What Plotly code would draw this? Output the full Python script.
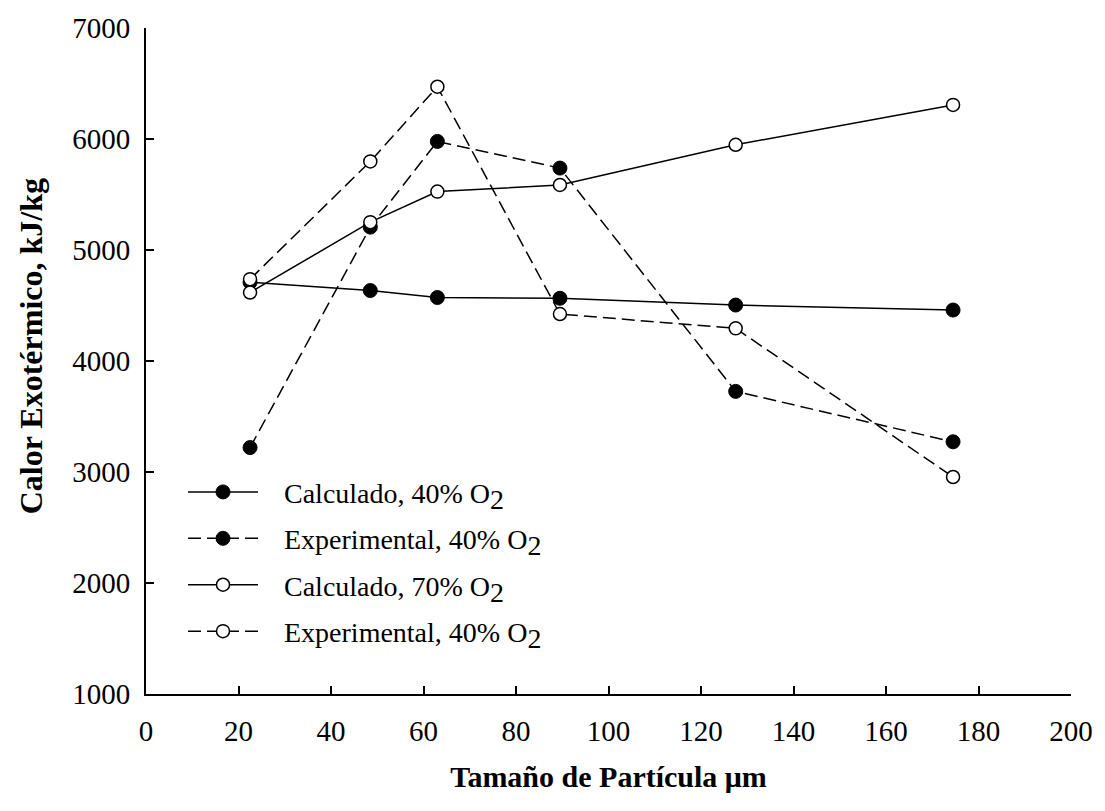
import plotly.graph_objects as go

# Data
particle_size = [22.5, 48.5, 63, 89.5, 127.5, 174.5]
calc_40 = [4710, 4635, 4572, 4565, 4504, 4459]
exp_40_filled = [3220, 5206, 5978, 5738, 3726, 3272]
calc_70 = [4617, 5251, 5526, 5586, 5948, 6307]
exp_40_open = [4737, 5798, 6471, 4423, 4294, 2955]

x_ticks = list(range(0, 201, 20))
y_ticks = list(range(1000, 7001, 1000))

series_names = [
    "Calculado, 40% O",
    "Experimental, 40% O",
    "Calculado, 70% O",
    "Experimental, 40% O",
]

FONT = "Liberation Serif, Times New Roman, serif"
SUB = "<sub><span style='font-size:28px'>2</span></sub>"
PAD = "&nbsp;&nbsp;&nbsp;"

fig = go.Figure()

styles = [
    (calc_40, "solid", "black", 14, 1),
    (exp_40_filled, "13px,6px", "black", 14, 1),
    (calc_70, "solid", "white", 13, 1.5),
    (exp_40_open, "13px,6px", "white", 13, 1.5),
]

for i, ((yvals, dash, fill, msize, mlw), name) in enumerate(zip(styles, series_names)):
    fig.add_trace(go.Scatter(
        x=particle_size, y=yvals, mode="lines+markers",
        name=PAD + name + SUB,
        legendgroup=f"g{i}",
        line=dict(color="black", width=1.5, dash=dash),
        marker=dict(symbol="circle", size=msize, color=fill, line=dict(color="black", width=mlw)),
    ))

fig.update_layout(
    width=1105, height=811,
    margin=dict(l=146, r=28, t=25, b=117),
    paper_bgcolor="white", plot_bgcolor="white",
    font=dict(family=FONT, size=28, color="black"),
    showlegend=True,
    legend=dict(
        x=0.04, y=0.3405, xanchor="left", yanchor="top",
        bgcolor="rgba(0,0,0,0)", borderwidth=0,
        itemwidth=70, font=dict(family=FONT, size=28, color="black"),
        traceorder="grouped", tracegroupgap=7,
    ),
    xaxis=dict(
        range=[0, 200], tickvals=x_ticks, ticktext=[str(v) for v in x_ticks],
        showline=True, linecolor="black", linewidth=2, mirror=False,
        ticks="inside", ticklen=8, tickwidth=1.5, tickcolor="black",
        showgrid=False, zeroline=False, ticklabelstandoff=10,
        tickfont=dict(family=FONT, size=29),
        title=dict(text="<b>Tamaño de Partícula μm</b>", font=dict(family=FONT, size=30), standoff=20),
    ),
    yaxis=dict(
        range=[1000, 7000], tickvals=y_ticks, ticktext=[str(v) for v in y_ticks],
        showline=True, linecolor="black", linewidth=2, mirror=False,
        ticks="inside", ticklen=8, tickwidth=1.5, tickcolor="black",
        showgrid=False, zeroline=False, ticklabelstandoff=8,
        tickfont=dict(family=FONT, size=29),
    ),
    annotations=[dict(
        text="<b>Calor Exotérmico, kJ/kg</b>",
        xref="paper", yref="paper", x=-0.1246, y=0.5217,
        xanchor="center", yanchor="middle", textangle=-90, showarrow=False,
        font=dict(family=FONT, size=32, color="black"),
    )],
)

fig.write_html("out.html")
